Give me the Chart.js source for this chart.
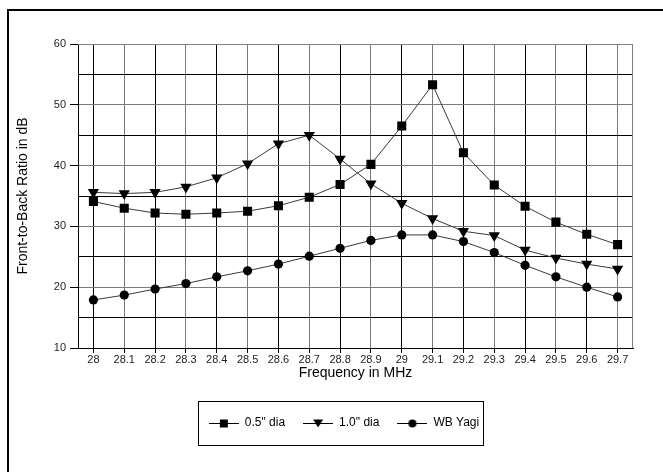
<!DOCTYPE html>
<html>
<head>
<meta charset="utf-8">
<script src="https://cdn.jsdelivr.net/npm/chart.js@4/dist/chart.umd.min.js"></script>
<style>
  html, body { margin: 0; padding: 0; background: #fff; }
  #wrap { width: 663px; height: 472px; position: relative; }
</style>
</head>
<body>
<div id="wrap"><canvas id="c" width="663" height="472"></canvas></div>
<script>
const categories = ['28','28.1','28.2','28.3','28.4','28.5','28.6','28.7','28.8','28.9','29','29.1','29.2','29.3','29.4','29.5','29.6','29.7'];
const dia05 = [34.1, 33.0, 32.2, 32.0, 32.2, 32.5, 33.4, 34.8, 36.9, 40.2, 46.5, 53.3, 42.1, 36.8, 33.3, 30.7, 28.7, 27.0];
const dia10 = [35.6, 35.4, 35.6, 36.5, 38.0, 40.3, 43.6, 45.0, 41.1, 37.0, 33.8, 31.3, 29.2, 28.5, 26.1, 24.8, 23.8, 23.0];
const wbYagi = [17.9, 18.7, 19.7, 20.6, 21.7, 22.7, 23.8, 25.1, 26.4, 27.7, 28.6, 28.6, 27.5, 25.7, 23.6, 21.7, 20.0, 18.4];
const seriesNames = ['0.5" dia', '1.0" dia', 'WB Yagi'];
const yTickValues = [10, 20, 30, 40, 50, 60];

const LINE = '#3a3a3a';
const FONT = 'Liberation Sans, Arial, sans-serif';

function legendIcon(kind) {
  const cv = document.createElement('canvas');
  cv.width = 30; cv.height = 12;
  const g = cv.getContext('2d');
  g.strokeStyle = '#000'; g.lineWidth = 1;
  g.beginPath(); g.moveTo(0, 6.5); g.lineTo(30, 6.5); g.stroke();
  g.fillStyle = '#000';
  g.beginPath();
  if (kind === 'rect') { g.rect(11, 2.5, 8, 8); }
  else if (kind === 'tri') { g.moveTo(10, 2.5); g.lineTo(20, 2.5); g.lineTo(15, 10.5); g.closePath(); }
  else { g.arc(15, 6.5, 4, 0, Math.PI * 2); }
  g.fill();
  return cv;
}
const icons = [legendIcon('rect'), legendIcon('tri'), legendIcon('circ')];

const framePlugin = {
  id: 'frame',
  afterLayout(chart) {
    const lg = chart.legend;
    if (lg) { lg.left += 20; lg.right += 20; }
  },
  beforeDraw(chart) {
    const ctx = chart.ctx;
    ctx.save();
    ctx.fillStyle = '#fff';
    ctx.fillRect(0, 0, chart.width, chart.height);
    ctx.fillStyle = '#000';
    ctx.fillRect(7, 9, 2, chart.height);
    ctx.fillRect(7, 9, chart.width, 2);
    ctx.restore();
  },
  beforeDatasetsDraw(chart) {
    const a = chart.chartArea, ctx = chart.ctx;
    ctx.save();
    ctx.strokeStyle = '#808080';
    ctx.lineWidth = 1;
    ctx.beginPath();
    ctx.moveTo(a.left, a.top + 0.5); ctx.lineTo(a.right - 0.5, a.top + 0.5); ctx.lineTo(a.right - 0.5, a.bottom);
    ctx.stroke();
    ctx.restore();
  },
  afterDraw(chart) {
    const lg = chart.legend;
    if (!lg || !lg.legendHitBoxes || !lg.legendHitBoxes.length) return;
    const hb = lg.legendHitBoxes;
    let minX = Infinity, maxX = -Infinity, minY = Infinity, maxY = -Infinity;
    hb.forEach(h => { minX = Math.min(minX, h.left); maxX = Math.max(maxX, h.left + h.width); minY = Math.min(minY, h.top); maxY = Math.max(maxY, h.top + h.height); });
    const cy = (minY + maxY) / 2;
    const ctx = chart.ctx;
    ctx.save();
    ctx.strokeStyle = '#000';
    ctx.lineWidth = 1;
    ctx.strokeRect(Math.round(minX - 11) + 0.5, Math.round(cy - 22) + 0.5, Math.round(maxX - minX + 15), 44);
    ctx.restore();
  }
};

const gridColor = (ctx) => (ctx.index % 2 === 0 ? '#000' : '#7a7a7a');

new Chart(document.getElementById('c'), {
  type: 'line',
  data: {
    labels: categories,
    datasets: [
      { label: seriesNames[0], data: dia05, borderColor: LINE, borderWidth: 1, pointStyle: 'rect', pointRadius: 6.4, pointBackgroundColor: '#000', pointBorderColor: '#000', pointBorderWidth: 0, tension: 0 },
      { label: seriesNames[1], data: dia10, borderColor: LINE, borderWidth: 1, pointStyle: 'triangle', pointRotation: 180, pointRadius: 6.5, pointBackgroundColor: '#000', pointBorderColor: '#000', pointBorderWidth: 0, tension: 0 },
      { label: seriesNames[2], data: wbYagi, borderColor: LINE, borderWidth: 1, pointStyle: 'circle', pointRadius: 4.6, pointBackgroundColor: '#000', pointBorderColor: '#000', pointBorderWidth: 0, tension: 0 }
    ]
  },
  options: {
    responsive: false,
    animation: false,
    devicePixelRatio: 1,
    layout: { padding: { left: 15, top: 44, right: 30, bottom: 33 } },
    plugins: {
      tooltip: { enabled: false },
      legend: {
        display: true,
        position: 'bottom',
        labels: {
          usePointStyle: true,
          pointStyleWidth: 30,
          padding: 18,
          color: '#000',
          font: { family: FONT, size: 12 },
          generateLabels(chart) {
            const items = Chart.defaults.plugins.legend.labels.generateLabels(chart);
            items.forEach((it, i) => { it.pointStyle = icons[i]; it.rotation = 0; });
            return items;
          }
        }
      }
    },
    scales: {
      x: {
        type: 'category',
        offset: true,
        grid: { offset: false, color: gridColor, lineWidth: 1, tickLength: 5, tickColor: '#000', drawOnChartArea: true },
        border: { color: '#000', width: 1 },
        ticks: { color: '#222', font: { family: FONT, size: 11, lineHeight: 1 }, padding: 1, maxRotation: 0, autoSkip: false },
        title: { display: true, text: 'Frequency in MHz', color: '#000', font: { family: FONT, size: 14, lineHeight: 1 }, padding: { top: 0, bottom: 19 } }
      },
      y: {
        min: 10, max: 60,
        afterFit(s) { s.width = 63; },
        grid: { color: (ctx) => (ctx.index % 2 === 0 ? '#7a7a7a' : '#000'), lineWidth: 1, tickLength: 8, tickColor: (ctx) => (yTickValues.includes(ctx.tick && ctx.tick.value) ? '#000' : 'rgba(0,0,0,0)') },
        border: { color: '#000', width: 1 },
        ticks: {
          stepSize: 5,
          color: '#222',
          padding: 4,
          font: { family: FONT, size: 11 },
          callback: (v) => (yTickValues.includes(v) ? String(v) : '')
        },
        title: { display: true, text: 'Front-to-Back Ratio in dB', color: '#000', font: { family: FONT, size: 14 }, padding: { top: 0, bottom: 0 } }
      }
    }
  },
  plugins: [framePlugin]
});
</script>
</body>
</html>
